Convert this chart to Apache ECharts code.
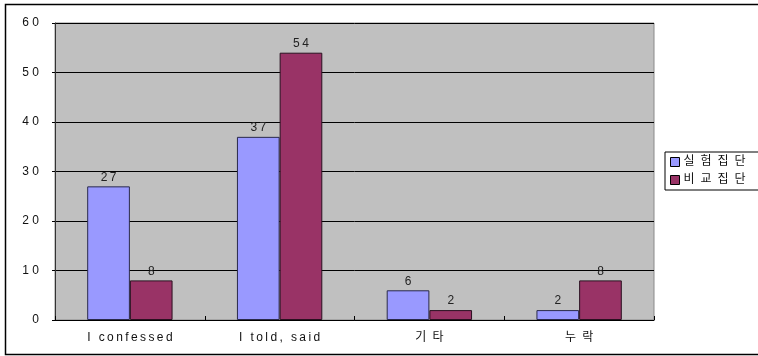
<!DOCTYPE html>
<html>
<head>
<meta charset="utf-8">
<style>
  html, body { margin: 0; padding: 0; background: #fff; }
  #chart { width: 758px; height: 356px; }
</style>
<script src="https://cdn.jsdelivr.net/npm/echarts@6/dist/echarts.min.js"></script>
</head>
<body>
<div id="chart"></div>
<script>
// Response categories and counts per group
const categories = ['I confessed', 'I told, said', '기타', '누락'];
const groupNames = ['실험집단', '비교집단'];
const experimental = [27, 37, 6, 2];
const comparison = [8, 54, 2, 8];
const yTicks = [0, 10, 20, 30, 40, 50, 60];

// Letter-spaced text: thin spaces for Latin, en spaces for Hangul
const spaced = s => {
  const gap = /[\uac00-\ud7a3]/.test(s) ? '\u2002' : '\u2009';
  return Array.from(s).join(gap);
};

const FONT = 'Liberation Sans, Arial, "Noto Sans CJK KR", sans-serif';

const chart = echarts.init(document.getElementById('chart'), null, { renderer: 'canvas' });

const valueLabel = {
  show: true, position: 'top', distance: 3, fontSize: 12, color: '#222',
  formatter: p => spaced(String(p.value))
};

chart.setOption({
  animation: false,
  backgroundColor: '#ffffff',
  textStyle: { fontFamily: FONT },
  graphic: [
    {
      type: 'rect',
      silent: true,
      shape: { x: 5.5, y: 4.5, width: 800, height: 350 },
      style: { fill: 'none', stroke: '#000', lineWidth: 1.5 },
      z: 100
    }
  ],
  grid: {
    left: 55, top: 23, width: 599, height: 297,
    show: true,
    backgroundColor: '#c0c0c0',
    borderColor: '#8a8a8a',
    borderWidth: 1
  },
  legend: {
    orient: 'vertical',
    left: 665, top: 152,
    data: groupNames,
    itemWidth: 9, itemHeight: 9,
    itemGap: 6,
    padding: [4, 14, 4, 5],
    backgroundColor: '#fff',
    borderColor: '#000',
    borderWidth: 1,
    borderRadius: 0,
    icon: 'rect',
    itemStyle: { borderColor: '#000', borderWidth: 1 },
    formatter: name => spaced(name),
    textStyle: { fontSize: 12, color: '#111', fontFamily: FONT, padding: [0, 0, 0, -1] }
  },
  xAxis: {
    type: 'category',
    data: categories,
    axisLine: { show: true, lineStyle: { color: '#000', width: 1 } },
    axisTick: { show: true, inside: true, length: 4, lineStyle: { color: '#000' } },
    axisLabel: {
      margin: 12,
      fontSize: 12,
      color: '#111',
      formatter: v => spaced(v)
    },
    splitLine: { show: false }
  },
  yAxis: {
    type: 'value',
    min: yTicks[0],
    max: yTicks[yTicks.length - 1],
    interval: 10,
    axisLine: { show: true, lineStyle: { color: '#333', width: 1 } },
    axisTick: { show: true, length: 3, lineStyle: { color: '#000' } },
    axisLabel: {
      margin: 16,
      fontSize: 12,
      color: '#111',
      formatter: v => String(v).split('').join(' ')
    },
    splitLine: { show: true, lineStyle: { color: '#000', width: 1 } }
  },
  series: [
    {
      name: groupNames[0],
      type: 'bar',
      data: experimental,
      barGap: '0%',
      barCategoryGap: '43%',
      itemStyle: { color: '#9999ff', borderColor: '#2a2a4a', borderWidth: 1 },
      label: valueLabel
    },
    {
      name: groupNames[1],
      type: 'bar',
      data: comparison,
      itemStyle: { color: '#993366', borderColor: '#2a1020', borderWidth: 1 },
      label: valueLabel
    }
  ]
});
</script>
</body>
</html>
